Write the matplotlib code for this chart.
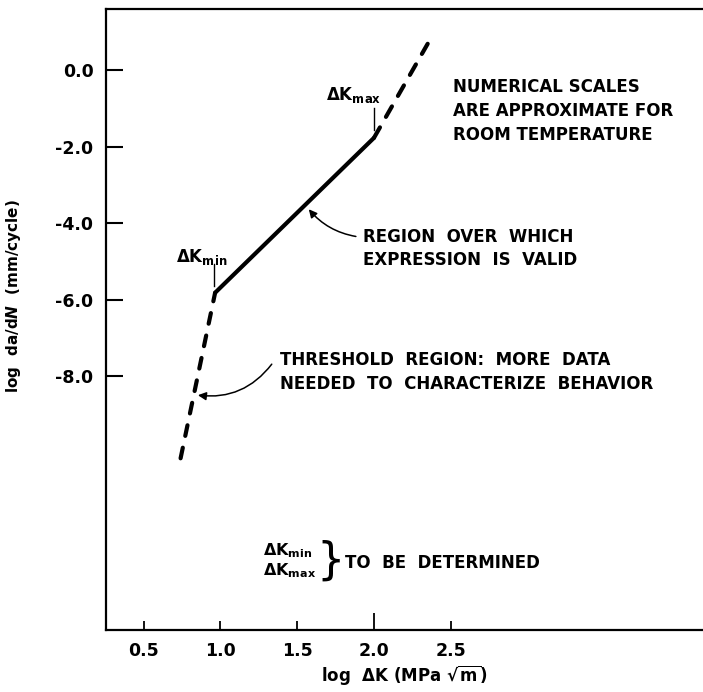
import matplotlib
matplotlib.use("Agg")
import matplotlib.pyplot as plt

# ---- data ----
threshold_x = [0.74, 0.965]
threshold_y = [-10.15, -5.82]
valid_x = [0.965, 2.0]
valid_y = [-5.82, -1.77]
upper_x = [2.0, 2.35]
upper_y = [-1.77, 0.69]

x_ticks = [0.5, 1.0, 1.5, 2.0, 2.5]
x_ticklabels = ["0.5", "1.0", "1.5", "2.0", "2.5"]
y_ticks = [0.0, -2.0, -4.0, -6.0, -8.0]
y_ticklabels = ["0.0", "-2.0", "-4.0", "-6.0", "-8.0"]

plt.rcParams['font.family'] = ['DejaVu Sans']
plt.rcParams['font.weight'] = 'bold'
plt.rcParams['axes.labelweight'] = 'bold'
plt.rcParams['mathtext.fontset'] = 'dejavusans'
plt.rcParams['mathtext.default'] = 'regular'

fig = plt.figure(figsize=(7.03, 6.92), dpi=100)
ax = fig.add_axes([106/703, 1 - 630/692, 1 - 106/703, (630 - 9)/692])
ax.set_xlim(0.254, 4.144)
ax.set_ylim(-14.64, 1.60)

ax.spines['right'].set_visible(False)
for s in ['left', 'top', 'bottom']:
    ax.spines[s].set_linewidth(1.6)

lw = 3.0
ax.plot(threshold_x, threshold_y, color='black', lw=lw, dashes=(2.6, 2.9),
        dash_capstyle='round', solid_capstyle='round')
ax.plot(valid_x, valid_y, color='black', lw=lw, solid_capstyle='round')
ax.plot(upper_x, upper_y, color='black', lw=lw, dashes=(2.9, 2.9),
        dash_capstyle='round')

ax.set_xticks(x_ticks)
ax.set_xticklabels(x_ticklabels)
ax.set_yticks(y_ticks)
ax.set_yticklabels(y_ticklabels)
ax.tick_params(axis='y', direction='in', length=12, width=1.5, pad=9, labelsize=12.5)
ax.tick_params(axis='x', direction='in', length=6.5, width=1.3, pad=9, labelsize=12.5)
ax.xaxis.get_major_ticks()[3].tick1line.set_markersize(12)

ax.set_xlabel(r"log  $\Delta$K (MPa $\sqrt{m}$)", fontsize=12, fontweight='bold', labelpad=2)
fig.text(14/703, 1 - 296/692, r"log  da/d$\mathit{N}$  (mm/cycle)", rotation=90,
         ha='center', va='center', fontsize=11)

fs = 12
# dK min / max labels and tick marks
ax.text(0.88, -5.01, r"$\Delta$K$_{min}$", ha='center', va='baseline', fontsize=fs)
ax.plot([0.955, 0.955], [-5.06, -5.64], color='black', lw=1.0)
ax.text(1.87, -0.78, r"$\Delta$K$_{max}$", ha='center', va='baseline', fontsize=fs)
ax.plot([2.0, 2.0], [-0.99, -1.56], color='black', lw=1.0)

ax.text(2.515, -1.07, "NUMERICAL SCALES\nARE APPROXIMATE FOR\nROOM TEMPERATURE",
        ha='left', va='center', fontsize=fs, linespacing=1.4)

ax.text(1.929, -4.66, "REGION  OVER  WHICH\nEXPRESSION  IS  VALID",
        ha='left', va='center', fontsize=fs, linespacing=1.4)
ax.annotate("", xy=(1.564, -3.58), xytext=(1.90, -4.36),
            arrowprops=dict(arrowstyle='-|>', color='black', lw=1.1,
                            mutation_scale=12,
                            connectionstyle="arc3,rad=-0.2"))

ax.text(1.388, -7.89, "THRESHOLD  REGION:  MORE  DATA\nNEEDED  TO  CHARACTERIZE  BEHAVIOR",
        ha='left', va='center', fontsize=fs, linespacing=1.4)
ax.annotate("", xy=(0.835, -8.49), xytext=(1.345, -7.63),
            arrowprops=dict(arrowstyle='-|>', color='black', lw=1.1,
                            mutation_scale=12,
                            connectionstyle="arc3,rad=-0.3"))

ax.text(1.277, -12.57, r"$\Delta$K$_{min}$", ha='left', va='center', fontsize=11.5)
ax.text(1.277, -13.09, r"$\Delta$K$_{max}$", ha='left', va='center', fontsize=11.5)
ax.text(1.72, -12.84, "}", ha='center', va='center', fontsize=32, fontweight='normal')
ax.text(1.811, -12.88, "TO  BE  DETERMINED", ha='left', va='center', fontsize=fs)

fig.savefig("out.png", dpi=100)
